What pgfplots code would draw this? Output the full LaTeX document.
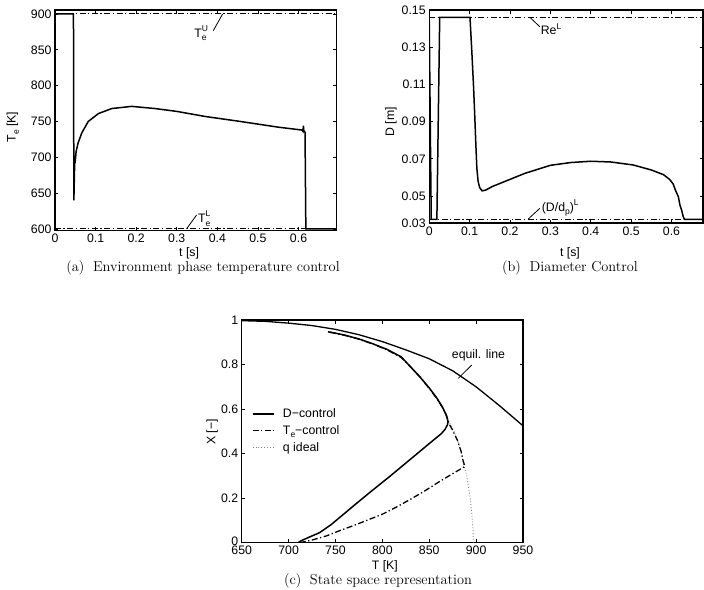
\documentclass[border=0pt]{standalone}
\usepackage{pgfplots}
\pgfplotsset{compat=1.18}
\usepackage{fontspec}
\newfontfamily\hv{Liberation Sans}
\newcommand\tfont{\hv\fontsize{12.3}{14}\selectfont}
\newcommand\sfont{\fontsize{8.5}{9.5}\selectfont}
\newcommand\sub[1]{\raisebox{-3.2pt}{\sfont #1}}
\newcommand\sups[1]{\raisebox{5.5pt}{\sfont #1}}
\newcommand\supsub[2]{\rlap{\raisebox{6pt}{\sfont #1}}\raisebox{-3.2pt}{\sfont #2}}
\newcommand\capfont{\fontsize{14.4}{17}\selectfont}

\pgfplotsset{
  mat/.style={
    scale only axis,
    anchor=south west,
    axis line style={line width=1.3pt},
    tick style={line width=0.8pt, black},
    tick align=inside,
    major tick length=3.5pt,
    ticklabel style={font=\tfont},
    label style={font=\tfont},
    /pgf/number format/assume math mode=true,
    scaled ticks=false,
  },
  curve/.style={black, line width=1.5pt},
  bound/.style={black, line width=1.1pt, dash pattern=on 6pt off 2.5pt on 1.3pt off 2.5pt},
}

\begin{document}
\begin{tikzpicture}
\useasboundingbox (0pt,0pt) rectangle (704pt,-589pt);

% (a) environment phase temperature
\begin{axis}[mat,
  at={(55pt,-230.7pt)}, width=281.7pt, height=220.7pt,
  xmin=0, xmax=0.694, ymin=597.5, ymax=905.5,
  xtick={0,0.1,0.2,0.3,0.4,0.5,0.6},
  xticklabels={0,0.1,0.2,0.3,0.4,0.5,0.6},
  ytick={600,650,700,750,800,850,900},
  xlabel={t [s]}, ylabel={T\sub{e} [K]},
  xlabel style={at={(axis description cs:0.476,-0.103)}, anchor=center},
  ylabel style={at={(axis description cs:-0.150,0.47)}, anchor=center},
]
\addplot[bound] coordinates {(0,900) (0.694,900)};
\addplot[bound] coordinates {(0,600) (0.694,600)};
\addplot[curve] coordinates {
 (0,900) (0.0455,900) (0.0465,640) (0.048,680) (0.049,700) (0.0495,692)
 (0.052,708) (0.057,720) (0.066,734) (0.082,750) (0.107,761) (0.140,768)
 (0.189,771) (0.246,768) (0.300,764) (0.369,757) (0.456,750) (0.550,742)
 (0.608,738) (0.611,736) (0.612,744) (0.613,737) (0.616,735) (0.618,600)
 (0.694,600)};
\draw[black, line width=0.8pt] (axis cs:0.413,900) -- (axis cs:0.390,876.7);
\node[font=\tfont, inner sep=0pt, anchor=base west] at (axis cs:0.343,867.5) {T\supsub{U}{e}};
\draw[black, line width=0.8pt] (axis cs:0.324,600) -- (axis cs:0.349,619.5);
\node[font=\tfont, inner sep=0pt, anchor=base west] at (axis cs:0.352,608.4) {T\supsub{L}{e}};
\end{axis}

% (b) diameter
\begin{axis}[mat,
  at={(429.2pt,-223pt)}, width=273.8pt, height=213pt,
  xmin=0, xmax=0.678, ymin=0.0355, ymax=0.15,
  xtick={0,0.1,0.2,0.3,0.4,0.5,0.6},
  xticklabels={0,0.1,0.2,0.3,0.4,0.5,0.6},
  ytick={0.05,0.07,0.09,0.11,0.13,0.15},
  yticklabels={0.05,0.07,0.09,0.11,0.13,0.15},
  extra y ticks={0.0355}, extra y tick labels={0.03},
  xlabel={t [s]}, ylabel={D [m]},
  xlabel style={at={(axis description cs:0.514,-0.142)}, anchor=center},
  ylabel style={at={(axis description cs:-0.140,0.476)}, anchor=center},
]
\addplot[bound] coordinates {(0,0.146) (0.678,0.146)};
\addplot[bound] coordinates {(0,0.0375) (0.678,0.0375)};
\addplot[curve] coordinates {
 (0,0.146) (0.005,0.0375) (0.019,0.0375) (0.026,0.146) (0.101,0.146)
 (0.105,0.130) (0.110,0.108) (0.113,0.092) (0.116,0.075) (0.118,0.065)
 (0.121,0.058) (0.125,0.0545) (0.131,0.0528) (0.140,0.0532) (0.155,0.0550)
 (0.196,0.0586) (0.237,0.0622) (0.300,0.0665) (0.350,0.0680) (0.400,0.0687)
 (0.450,0.0683) (0.505,0.0667) (0.550,0.0640) (0.580,0.0615) (0.595,0.0590)
 (0.604,0.0565) (0.610,0.0530) (0.617,0.0496) (0.621,0.0450) (0.625,0.0425)
 (0.629,0.0389) (0.632,0.0375) (0.678,0.0375)};
\draw[black, line width=0.8pt] (axis cs:0.2495,0.146) -- (axis cs:0.274,0.141);
\node[font=\tfont, inner sep=0pt, anchor=base west] at (axis cs:0.276,0.1366) {Re\sups{L}};
\draw[black, line width=0.8pt] (axis cs:0.245,0.0376) -- (axis cs:0.274,0.0434);
\node[font=\tfont, inner sep=0pt, anchor=base west] at (axis cs:0.2785,0.0419) {(D/d\sub{p})\sups{L}};
\end{axis}

% (c) state space
\begin{axis}[mat,
  at={(241.7pt,-542.7pt)}, width=281.3pt, height=222.7pt,
  xmin=650, xmax=950, ymin=0, ymax=1,
  xtick={650,700,750,800,850,900,950},
  ytick={0,0.2,0.4,0.6,0.8,1},
  yticklabels={\raisebox{3pt}{0},0.2,0.4,0.6,0.8,1},
  xlabel={T [K]}, ylabel={X [−]},
  xlabel style={at={(axis description cs:0.509,-0.104)}, anchor=center},
  ylabel style={at={(axis description cs:-0.105,0.497)}, anchor=center},
  reverse legend,
  legend image code/.code={\draw[#1] (0pt,0pt) -- (21.6pt,0pt);},
  legend style={at={(axis description cs:0.0355,0.612)}, anchor=north west,
    draw=none, fill=none, font=\tfont, inner sep=0pt, row sep=2.5pt,
    /tikz/every odd column/.append style={column sep=6pt}},
  legend cell align=left,
]
\addplot[gray, line width=0.9pt, dotted] coordinates {
 (897,0) (896.8,0.05) (896,0.10) (895,0.15) (893.5,0.207) (891.5,0.26)
 (889.5,0.31) (887,0.345) (884.5,0.40) (881,0.45) (876.5,0.50) (872,0.535)
 (868,0.57) (864,0.605) (858,0.645)};
\addlegendentry{q ideal}
\addplot[black, line width=1.3pt, dash pattern=on 6pt off 2.5pt on 1.3pt off 2.5pt] coordinates {
 (712,0) (725,0.012) (740,0.030) (755,0.055) (770,0.078) (785,0.103)
 (800,0.128) (815,0.160) (830,0.195) (845,0.232) (860,0.272) (875,0.310)
 (888,0.342) (886,0.370) (884,0.410) (880,0.460) (875,0.505) (871,0.535)
 (868.5,0.570) (864.5,0.605) (858.5,0.645) (850.5,0.690) (840.5,0.742)
 (830.5,0.788) (820,0.832) (805,0.866) (790,0.892) (775,0.914) (760,0.931)
 (750,0.940) (743,0.946)};
\addlegendentry{T\sub{e}−control}
\addplot[curve] coordinates {
 (710,0) (714,0.010) (722,0.025) (733,0.045) (745,0.080) (755,0.115)
 (770,0.168) (787,0.227) (808,0.298) (830,0.375) (850,0.445) (863,0.490)
 (867,0.510) (869.5,0.530) (870,0.545) (868,0.575) (864,0.610) (858,0.650)
 (850,0.695) (840,0.745) (830,0.790) (820,0.835) (805,0.868) (790,0.893)
 (775,0.915) (760,0.932) (750,0.941) (742,0.947)};
\addlegendentry{D−control}
\addplot[curve, line width=1.3pt, forget plot] coordinates {
 (650,0.997) (675,0.994) (700,0.986) (725,0.975) (750,0.958) (775,0.934)
 (800,0.903) (825,0.866) (850,0.826) (875,0.772) (900,0.700) (925,0.615)
 (950,0.525)};
\draw[black, line width=0.8pt] (axis cs:881,0.738) -- (axis cs:895.3,0.798);
\node[font=\tfont, inner sep=0pt, anchor=base west] at (axis cs:874,0.825) {equil. line};
\end{axis}

% sub-figure captions
\node[font=\capfont] at (203pt,-267.5pt) {(a)\hspace{0.6em}Environment phase temperature control};
\node[font=\capfont] at (570pt,-267.5pt) {(b)\hspace{0.6em}Diameter Control};
\node[font=\capfont] at (378pt,-580.5pt) {(c)\hspace{0.6em}State space representation};
\end{tikzpicture}
\end{document}
